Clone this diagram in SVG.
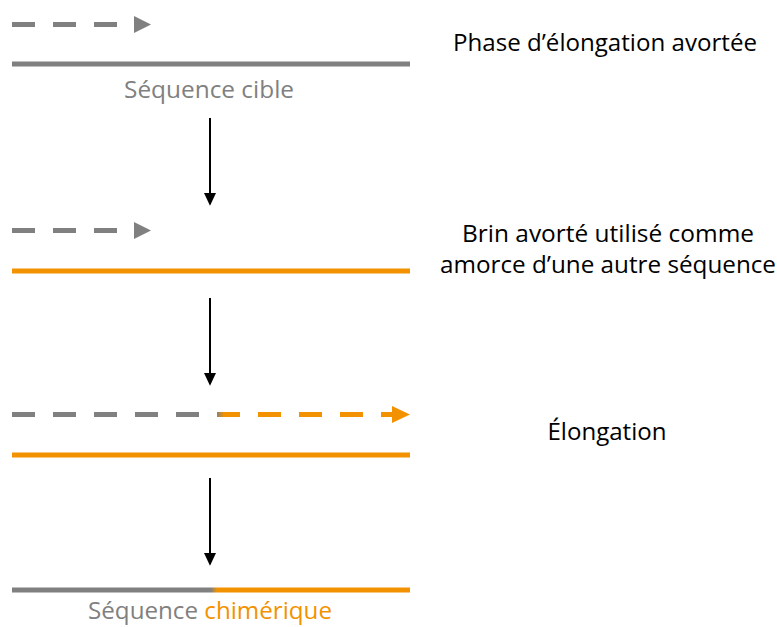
<svg xmlns="http://www.w3.org/2000/svg" width="777" height="627" viewBox="0 0 777 627">
<defs>
<style>
.lbl{font-family:"Open Sans","Liberation Sans",sans-serif;font-size:24px;fill:#000;text-anchor:middle}
.gl{font-family:"Open Sans","Liberation Sans",sans-serif;font-size:24px;fill:#808080;text-anchor:middle}
.g{stroke:#808080;stroke-width:5;fill:none}
.o{stroke:#F39200;stroke-width:5;fill:none}
.dash{stroke-dasharray:23 18}
.conn{stroke:#000;stroke-width:2;fill:none}
</style>
<linearGradient id="gdash" gradientUnits="userSpaceOnUse" x1="12" y1="0" x2="410" y2="0">
<stop offset="0.513" stop-color="#808080"/>
<stop offset="0.533" stop-color="#F39200"/>
</linearGradient>
<linearGradient id="gline" gradientUnits="userSpaceOnUse" x1="12" y1="0" x2="410" y2="0">
<stop offset="0.50" stop-color="#808080"/>
<stop offset="0.515" stop-color="#F39200"/>
</linearGradient>
<marker id="ah" markerWidth="13" markerHeight="14" refX="12" refY="6.5" orient="auto" markerUnits="userSpaceOnUse" viewBox="0 0 14 13">
<path d="M0,0 L14,6.5 L0,13 Z" fill="#000"/>
</marker>
</defs>
<rect width="777" height="627" fill="#fff"/>

<g id="step1">
<line class="g dash" x1="12" y1="24.5" x2="120" y2="24.5"/>
<polygon points="134,16 151,24.5 134,33" fill="#808080"/>
<line class="g" x1="12" y1="64" x2="410" y2="64"/>
<text class="gl" x="209" y="98" textLength="170" lengthAdjust="spacingAndGlyphs">Séquence cible</text>
<text class="lbl" x="605" y="51" textLength="304" lengthAdjust="spacingAndGlyphs">Phase d’élongation avortée</text>
</g>

<g id="step2">
<line class="g dash" x1="12" y1="230.5" x2="120" y2="230.5"/>
<polygon points="134,222 151,230.5 134,239" fill="#808080"/>
<line class="o" x1="12" y1="271" x2="410" y2="271"/>
<text class="lbl" x="608" y="242" textLength="292" lengthAdjust="spacingAndGlyphs">Brin avorté utilisé comme</text>
<text class="lbl" x="608" y="273" textLength="336" lengthAdjust="spacingAndGlyphs">amorce d’une autre séquence</text>
</g>

<g id="step3">
<line stroke="url(#gdash)" stroke-width="5" stroke-dasharray="23 18" x1="12" y1="414.5" x2="395" y2="414.5"/>
<polygon points="392,406 410,414.5 392,423" fill="#F39200"/>
<line class="o" x1="12" y1="455" x2="410" y2="455"/>
<text class="lbl" x="607" y="440" textLength="119" lengthAdjust="spacingAndGlyphs">Élongation</text>
</g>

<g id="step4">
<line stroke="url(#gline)" stroke-width="5" x1="12" y1="590" x2="410" y2="590"/>
<text class="gl" x="210" y="619" textLength="244" lengthAdjust="spacingAndGlyphs">Séquence <tspan fill="#F39200">chimérique</tspan></text>
</g>

<g id="connectors">
<line class="conn" x1="210" y1="118" x2="210" y2="204" marker-end="url(#ah)"/>
<line class="conn" x1="210" y1="298" x2="210" y2="384" marker-end="url(#ah)"/>
<line class="conn" x1="210" y1="478" x2="210" y2="564" marker-end="url(#ah)"/>
</g>
</svg>
